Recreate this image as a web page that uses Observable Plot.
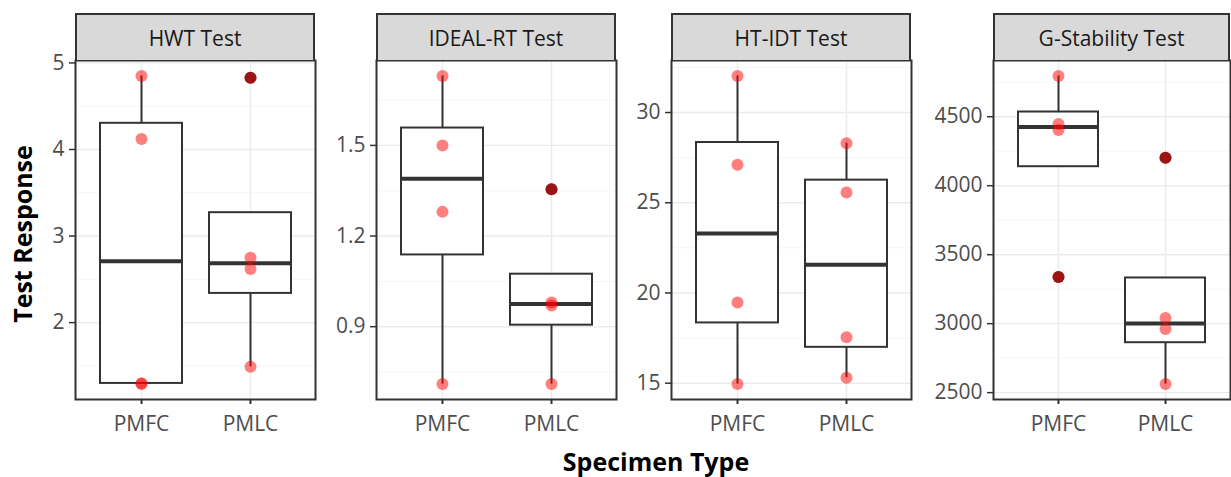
<!DOCTYPE html>
<html>
<head>
<meta charset="utf-8">
<script src="https://cdn.jsdelivr.net/npm/d3@7"></script>
<script src="https://cdn.jsdelivr.net/npm/@observablehq/plot@0.6"></script>
<style>
  html, body { margin: 0; padding: 0; background: #fff; }
  #chart { position: relative; width: 1231px; height: 477px; overflow: hidden; background: #fff; font-family: "Open Sans", sans-serif; }
  .facet { position: absolute; top: 0; }
  .strip {
    position: absolute; top: 13px; height: 47px; box-sizing: border-box;
    background: #d9d9d9; border: 2px solid #333; border-bottom: none;
    font-size: 21px; color: #1a1a1a; display: flex; align-items: center; justify-content: center;
    white-space: nowrap;
  }
  .axis-title { position: absolute; font-weight: 700; font-size: 25px; line-height: 25px; color: #000; white-space: nowrap; }
</style>
</head>
<body>
<div id="chart"></div>
<script>
// Four tests, two specimen types, four replicate measurements each
const tests = ["HWT Test", "IDEAL-RT Test", "HT-IDT Test", "G-Stability Test"];
const specimenTypes = ["PMFC", "PMLC"];

const hwtPMFC = [4.85, 4.12, 1.30, 1.29];
const hwtPMLC = [4.83, 2.75, 2.62, 1.49];
const idealPMFC = [1.73, 1.50, 1.28, 0.71];
const idealPMLC = [1.355, 0.98, 0.97, 0.71];
const htidtPMFC = [32.03, 27.11, 19.47, 14.95];
const htidtPMLC = [28.3, 25.57, 17.55, 15.3];
const gstabPMFC = [4796, 4447, 4404, 3339];
const gstabPMLC = [4202, 3041, 2962, 2562];

// Major y tick values per test
const hwtTicks = [2, 3, 4, 5];
const idealTicks = [0.9, 1.2, 1.5];
const htidtTicks = [15, 20, 25, 30];
const gstabTicks = [2500, 3000, 3500, 4000, 4500];

const facets = [
  {title: tests[0], groups: [hwtPMFC, hwtPMLC], ticks: hwtTicks, left: 75, width: 240},
  {title: tests[1], groups: [idealPMFC, idealPMLC], ticks: idealTicks, left: 376, width: 240},
  {title: tests[2], groups: [htidtPMFC, htidtPMLC], ticks: htidtTicks, left: 671, width: 240},
  {title: tests[3], groups: [gstabPMFC, gstabPMLC], ticks: gstabTicks, left: 993, width: 237}
];

const chart = document.getElementById("chart");
const marginLeft = 80, marginRight = 4, marginTop = 60, marginBottom = 41, plotHeight = 440;

// Tukey box statistics (type-7 quantiles, 1.5 IQR whiskers)
function boxStats(cat, values) {
  const v = values.slice().sort(d3.ascending);
  const q1 = d3.quantile(v, 0.25), median = d3.quantile(v, 0.5), q3 = d3.quantile(v, 0.75);
  const iqr = q3 - q1;
  const inside = v.filter(d => d >= q1 - 1.5 * iqr && d <= q3 + 1.5 * iqr);
  return {
    cat, q1, median, q3,
    lo: d3.min(inside), hi: d3.max(inside),
    outliers: v.filter(d => d < q1 - 1.5 * iqr || d > q3 + 1.5 * iqr)
  };
}

for (const f of facets) {
  const points = f.groups.flatMap((vals, i) => vals.map(value => ({cat: specimenTypes[i], value})));
  const stats = f.groups.map((vals, i) => boxStats(specimenTypes[i], vals));
  const outliers = stats.flatMap(s => s.outliers.map(value => ({cat: s.cat, value})));

  // Continuous scale expanded by 5% of the data range on both sides
  const [mn, mx] = d3.extent(points, d => d.value);
  const pad = (mx - mn) * 0.05;
  const domain = [mn - pad, mx + pad];

  // Minor grid lines halfway between majors
  const step = f.ticks[1] - f.ticks[0];
  const minor = d3.range(f.ticks[0] - step / 2, domain[1], step).filter(d => d >= domain[0]);

  const svg = Plot.plot({
    width: f.width + marginLeft + marginRight,
    height: plotHeight,
    marginLeft, marginRight, marginTop, marginBottom,
    style: {fontFamily: "Open Sans, sans-serif", fontSize: "21px", background: "transparent", overflow: "visible"},
    x: {type: "band", domain: specimenTypes, paddingInner: 0.25, paddingOuter: 0.225, align: 0.5},
    y: {domain},
    marks: [
      Plot.ruleY(minor, {stroke: "#f2f2f2", strokeWidth: 0.8}),
      Plot.ruleY(f.ticks, {stroke: "#ebebeb", strokeWidth: 1.4}),
      Plot.ruleX(specimenTypes, {x: d => d, stroke: "#ebebeb", strokeWidth: 1.4}),
      Plot.ruleX(stats, {x: "cat", y1: "q3", y2: "hi", stroke: "#333", strokeWidth: 2}),
      Plot.ruleX(stats, {x: "cat", y1: "lo", y2: "q1", stroke: "#333", strokeWidth: 2}),
      Plot.barY(stats, {x: "cat", y1: "q1", y2: "q3", fill: "white", stroke: "#333", strokeWidth: 2}),
      Plot.tickY(stats, {x: "cat", y: "median", stroke: "#333", strokeWidth: 4}),
      Plot.dot(points, {x: "cat", y: "value", r: 6, fill: "#ff0000", fillOpacity: 0.5, stroke: "none"}),
      Plot.dot(outliers, {x: "cat", y: "value", r: 6, fill: "#9a1515", stroke: "none"}),
      Plot.frame({stroke: "#333", strokeWidth: 2}),
      Plot.axisY({ticks: f.ticks, tickSize: 6, tickPadding: 5, stroke: "#333", strokeWidth: 1.5, fill: "#4d4d4d", label: null, tickFormat: d => String(d)}),
      Plot.axisX({tickSize: 5, tickPadding: 12, stroke: "#333", strokeWidth: 2, fill: "#4d4d4d", label: null})
    ]
  });
  svg.classList.add("facet");
  svg.style.left = (f.left - marginLeft) + "px";
  chart.appendChild(svg);

  const strip = document.createElement("div");
  strip.className = "strip";
  strip.style.left = f.left + "px";
  strip.style.width = f.width + "px";
  strip.textContent = f.title;
  chart.appendChild(strip);
}

const yTitle = document.createElement("div");
yTitle.className = "axis-title";
yTitle.textContent = "Test Response";
yTitle.style.left = "22px";
yTitle.style.top = "234px";
yTitle.style.transform = "translate(-50%, -50%) rotate(-90deg)";
chart.appendChild(yTitle);

const xTitle = document.createElement("div");
xTitle.className = "axis-title";
xTitle.textContent = "Specimen Type";
xTitle.style.left = "656px";
xTitle.style.top = "449px";
xTitle.style.transform = "translateX(-50%)";
chart.appendChild(xTitle);
</script>
</body>
</html>
